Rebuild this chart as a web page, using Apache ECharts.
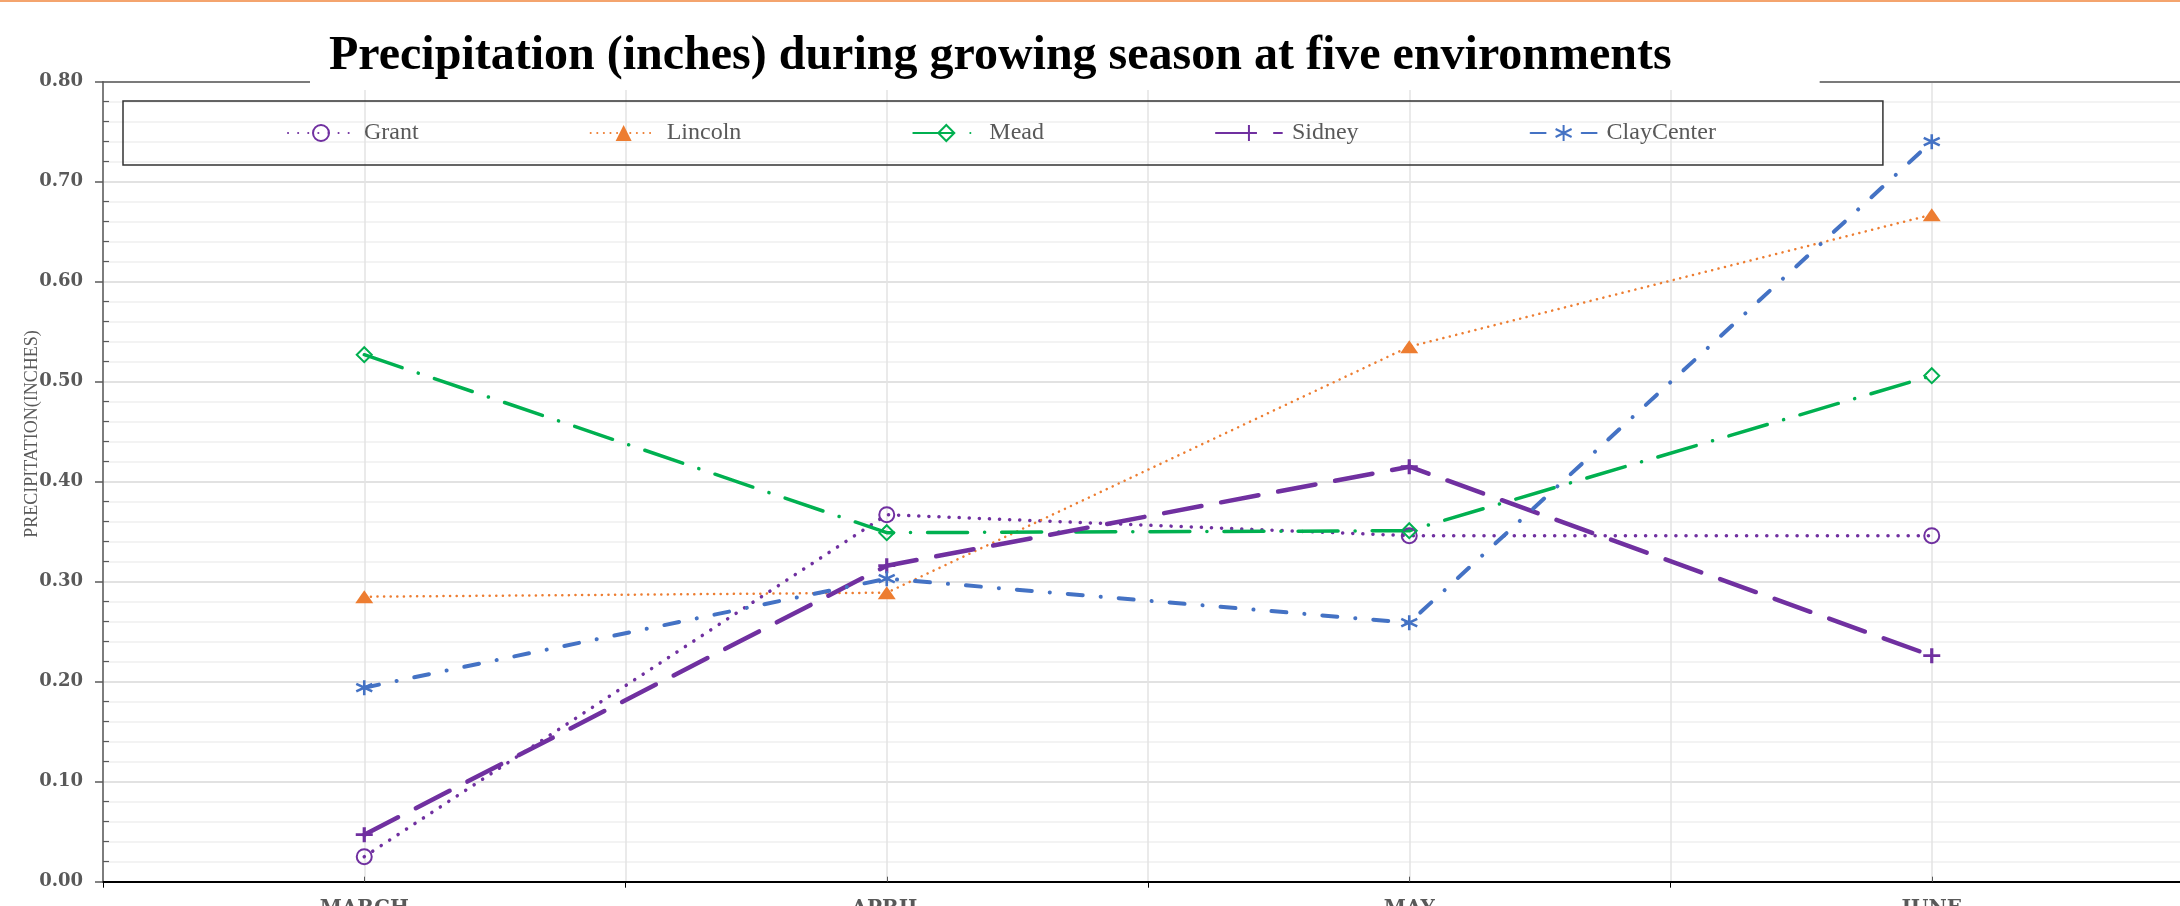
<!DOCTYPE html>
<html lang="en">
<head>
<meta charset="UTF-8">
<title>Precipitation during growing season</title>
<script src="https://cdn.jsdelivr.net/npm/echarts/dist/echarts.min.js"></script>
<style>
  html, body { margin: 0; padding: 0; background: #fff; }
  #main { width: 2180px; height: 906px; }
  #topline { position: absolute; left: 0; top: 0; width: 2180px; height: 2px; background: #f4a46e; }
</style>
</head>
<body>
<div id="main"></div>
<div id="topline"></div>
<script>
// values (inches)
var months = ['MARCH', 'APRIL', 'MAY', 'JUNE'];
var grant = [0.025, 0.367, 0.346, 0.346];
var lincoln = [0.285, 0.289, 0.535, 0.667];
var mead = [0.527, 0.349, 0.351, 0.506];
var sidney = [0.047, 0.316, 0.415, 0.226];
var clayCenter = [0.194, 0.303, 0.259, 0.740];
var yMin = 0, yMax = 0.8, yStep = 0.1;

var serif = '"Liberation Serif", "Times New Roman", serif';
var grey = '#595959';

var plus = 'path://M0,5L10,5M5,0L5,10';
var star = 'path://M5,0L5,10M0.7,2.5L9.3,7.5M9.3,2.5L0.7,7.5';

function line(name, data, color, width, dash, symbol, size, fill, border) {
  return {
    name: name, type: 'line', data: data, color: color,
    symbol: symbol, symbolSize: size, showAllSymbol: true,
    lineStyle: { color: color, width: width, type: dash, cap: 'round' },
    itemStyle: { color: fill, borderColor: color, borderWidth: border },
    emphasis: { disabled: true }
  };
}

var myChart = echarts.init(document.getElementById('main'));
myChart.setOption({
  animation: false,
  title: {
    text: 'Precipitation (inches) during growing season at five environments',
    left: 310, top: 25,
    padding: [4, 148, 5, 19],
    backgroundColor: '#fff',
    textStyle: { fontFamily: serif, fontWeight: 'bold', fontSize: 48, lineHeight: 56, color: '#000' }
  },
  legend: {
    left: 123, top: 101,
    padding: [20, 167, 20, 164],
    itemWidth: 66, itemHeight: 20, itemGap: 171,
    borderColor: '#333', borderWidth: 1.5,
    selectedMode: false,
    textStyle: { fontFamily: serif, fontSize: 24, lineHeight: 22, color: grey, padding: [0, 0, 0, 5] },
    data: ['Grant', 'Lincoln', 'Mead', 'Sidney', 'ClayCenter']
  },
  grid: { left: 103, top: 81.7, bottom: 24.3, right: -13, outerBoundsMode: 'none' },
  xAxis: [{
    type: 'category', data: months, boundaryGap: true,
    axisLine: { onZero: false, lineStyle: { color: '#000', width: 2 } },
    axisTick: { show: true, length: 6, lineStyle: { color: '#000', width: 1 } },
    axisLabel: { margin: 17, fontFamily: 'DejaVu Serif', fontWeight: 'bold', fontSize: 20, color: grey },
    splitLine: { show: false }
  }, {
    type: 'category', data: months, position: 'bottom',
    axisLine: { show: false }, axisLabel: { show: false }, splitLine: { show: false },
    axisTick: { show: true, alignWithLabel: true, inside: true, length: 5, lineStyle: { color: grey } }
  }, {
    // half-category grid lines and the dark top border
    type: 'value', min: 0, max: 8, interval: 1, position: 'top',
    axisLine: { show: true, onZero: false, lineStyle: { color: grey, width: 1.5 } },
    axisTick: { show: false }, axisLabel: { show: false },
    splitLine: { show: true, lineStyle: { color: '#e3e3e3', width: 1.5 } }
  }],
  yAxis: [{
    type: 'value', min: yMin, max: yMax, interval: yStep,
    axisLine: { show: true, onZero: false, lineStyle: { color: grey, width: 1.5 } },
    axisTick: { show: true, length: 8, lineStyle: { color: grey, width: 1.5 } },
    axisLabel: {
      margin: 20, fontFamily: 'DejaVu Serif', fontWeight: 'bold', fontSize: 18, color: grey,
      formatter: function (v) { return v.toFixed(2); }
    },
    splitLine: { lineStyle: { color: '#d9d9d9', width: 1.5 } },
    minorTick: { show: false, splitNumber: 5 },
    minorSplitLine: { show: true, lineStyle: { color: '#f0f0f0', width: 1.5 } }
  }, {
    type: 'value', min: yMin, max: yMax, interval: yStep, position: 'left',
    axisLine: { show: false, onZero: false }, axisLabel: { show: false }, splitLine: { show: false },
    axisTick: { show: false, inside: true },
    minorTick: { show: true, splitNumber: 5, length: 6, lineStyle: { color: grey, width: 1.2 } }
  }],
  graphic: [{
    type: 'text', x: 32, y: 434, rotation: Math.PI / 2,
    style: { text: 'PRECIPITATION(INCHES)', fontFamily: serif, fontSize: 18, fill: grey, align: 'center', verticalAlign: 'middle' }
  }],
  series: [
    line('Grant', grant, '#7030a0', 3.5, [0.1, 10], 'circle', 15, 'rgba(0,0,0,0)', 2),
    line('Lincoln', lincoln, '#ed7d31', 2.5, [0.1, 6.5], 'triangle', [18, 13], '#ed7d31', 0),
    line('Mead', mead, '#00b050', 3.5, [40, 17, 0.1, 17], 'diamond', [15, 15], 'rgba(0,0,0,0)', 2),
    line('Sidney', sidney, '#7030a0', 4.5, [38, 20], plus, [17, 15], 'rgba(0,0,0,0)', 3),
    line('ClayCenter', clayCenter, '#4472c4', 4, [15, 18, 0.1, 18], star, [16, 15], 'rgba(0,0,0,0)', 2.5)
  ]
});
</script>
</body>
</html>
